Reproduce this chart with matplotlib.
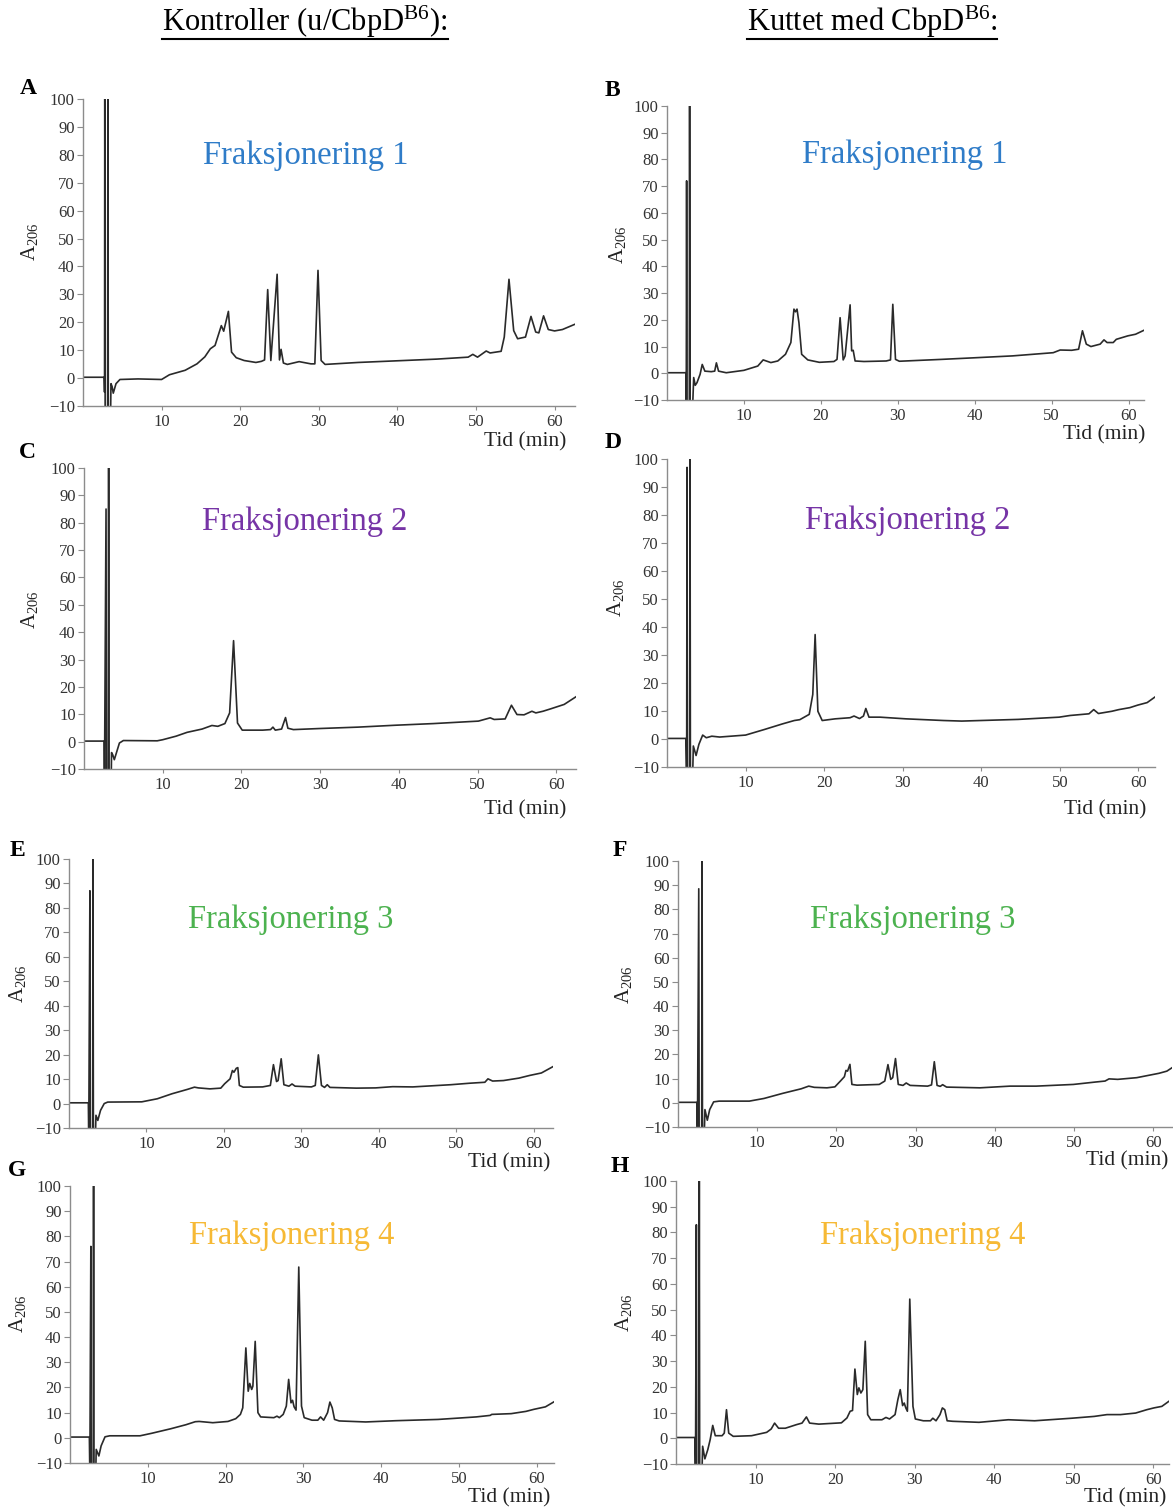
import numpy as np
import matplotlib
matplotlib.use("Agg")
import matplotlib.pyplot as plt
from matplotlib.lines import Line2D

plt.rcParams['font.family'] = ['Liberation Serif', 'DejaVu Serif']
plt.rcParams['mathtext.fontset'] = 'custom'
plt.rcParams['mathtext.rm'] = 'Liberation Serif'
plt.rcParams['mathtext.it'] = 'Liberation Serif:italic'

# kromatogrammer: (tid i min, A206)
spor_a = [(0, 0.3), (2.70, 0.3), (2.74, -5), (2.77, 100), (2.82, -15), (3.13, -15), (3.17, 100),
          (3.22, -15), (3.50, -15), (3.56, -2), (3.70, -3), (3.85, -5.4), (4.2, -2), (4.7, -0.5),
          (7.0, -0.3), (10.0, -0.5), (11.0, 1.2), (13.0, 2.8), (14.5, 5.1), (15.5, 7.6), (16.2, 10.5),
          (16.8, 11.7), (17.6, 18.8), (17.9, 16.8), (18.5, 23.9), (18.9, 9.3), (19.5, 7.3),
          (20.5, 6.3), (22.0, 5.6), (22.7, 6.0), (23.1, 6.5), (23.5, 31.7), (23.9, 6.3),
          (24.7, 37.2), (25.0, 6.5), (25.2, 10.3), (25.5, 5.4), (26.0, 4.9), (27.5, 5.9),
          (29.0, 5.1), (29.5, 5.1), (29.9, 38.6), (30.3, 6.3), (30.8, 4.9), (35.0, 5.6),
          (40.0, 6.2), (45.0, 6.8), (49.0, 7.5), (49.6, 8.5), (50.2, 7.5), (51.3, 9.7),
          (51.8, 9.0), (53.2, 9.6), (53.6, 14.7), (54.2, 35.4), (54.8, 17.0), (55.3, 14.1),
          (56.3, 14.7), (57.0, 22.1), (57.6, 16.5), (58.0, 16.2), (58.6, 22.3), (59.2, 17.4),
          (60.0, 16.9), (61.0, 17.4), (62.6, 19.3)]

spor_b = [(0, 0.2), (2.46, 0.2), (2.50, -15), (2.55, 72), (2.60, -15), (2.90, -15), (2.94, 100),
          (3.00, -15), (3.30, -15), (3.47, -1.6), (3.67, -4.5), (3.9, -3.5), (4.3, -0.4),
          (4.58, 3.3), (4.92, 0.8), (5.75, 0.6), (6.2, 0.8), (6.42, 3.9), (6.7, 0.8), (7.7, 0.2),
          (10.0, 1.1), (11.8, 2.7), (12.5, 5.0), (13.5, 4.0), (14.4, 4.6), (15.4, 7.1),
          (16.1, 11.5), (16.5, 24.0), (16.7, 23.0), (16.9, 24.0), (17.15, 18.9), (17.5, 7.1),
          (18.3, 5.0), (19.8, 4.1), (21.7, 4.4), (22.1, 5.2), (22.5, 20.8), (22.9, 5.0),
          (23.15, 6.5), (23.8, 25.6), (24.0, 8.4), (24.2, 8.6), (24.45, 4.6), (25.6, 4.4),
          (28.5, 4.6), (29.05, 5.0), (29.35, 25.8), (29.7, 5.2), (30.2, 4.5), (35.7, 5.2),
          (40.0, 5.8), (44.9, 6.5), (50.2, 7.7), (51.1, 8.7), (52.6, 8.6), (53.5, 9.0),
          (54.0, 15.9), (54.5, 10.9), (55.1, 10.0), (56.3, 10.9), (56.8, 12.5), (57.2, 11.5),
          (58.0, 11.5), (58.4, 12.7), (59.9, 14.0), (60.9, 14.6), (62.0, 16.1)]

spor_c = [(0, 0.2), (2.55, 0.2), (2.60, -15), (2.80, 85), (2.85, -15), (3.08, -15), (3.13, 100),
          (3.18, -15), (3.45, -15), (3.5, -4.0), (3.65, -4.8), (3.85, -6.6), (4.5, -0.5),
          (5.0, 0.4), (9.3, 0.3), (10.0, 0.7), (11.7, 2.0), (13.1, 3.4), (15.0, 4.6),
          (16.25, 5.9), (17.0, 5.6), (17.9, 6.6), (18.5, 10.5), (19.0, 36.9), (19.5, 6.8),
          (20.1, 4.2), (22.7, 4.2), (23.7, 4.4), (24.0, 5.3), (24.3, 4.2), (25.1, 4.6),
          (25.6, 8.8), (25.9, 4.9), (26.6, 4.4), (30.0, 4.8), (34.8, 5.3), (39.6, 6.0),
          (44.4, 6.6), (50.1, 7.5), (51.6, 8.7), (52.1, 8.1), (53.5, 8.3), (54.3, 13.3),
          (55.0, 9.9), (55.9, 9.8), (56.9, 11.1), (57.4, 10.5), (58.3, 11.1), (59.3, 12.0),
          (61.0, 13.6), (62.5, 16.4)]

spor_d = [(0, 0.2), (2.40, 0.2), (2.50, -15), (2.55, 97), (2.60, -15), (2.88, -15), (2.93, 100),
          (2.98, -15), (3.25, -15), (3.35, -2.5), (3.7, -5.9), (4.06, -1.9), (4.54, 1.4),
          (5.0, 0.45), (5.7, 1.0), (6.7, 0.7), (10.0, 1.4), (12.4, 3.4), (14.7, 5.4),
          (16.2, 6.6), (16.9, 6.9), (18.1, 8.8), (18.55, 15.9), (18.85, 37.3), (19.2, 9.9),
          (19.75, 6.6), (21.4, 7.2), (23.3, 7.6), (23.8, 8.2), (24.5, 7.3), (25.0, 8.2),
          (25.3, 10.9), (25.7, 7.8), (27.1, 7.8), (30.4, 7.2), (35.2, 6.6), (37.5, 6.4),
          (39.9, 6.6), (44.7, 7.0), (49.9, 7.8), (51.3, 8.4), (53.7, 9.0), (54.3, 10.5),
          (54.9, 9.1), (56.6, 9.9), (57.5, 10.5), (58.9, 11.2), (59.9, 12.1), (61.1, 13.0),
          (62.1, 15.0)]

spor_e = [(0, 0.3), (2.50, 0.3), (2.55, -15), (2.70, 87), (2.75, -15), (3.05, -15), (3.10, 100),
          (3.15, -15), (3.40, -15), (3.48, -4.8), (3.72, -6.9), (4.07, -2.8), (4.55, 0.0),
          (5.0, 0.6), (9.4, 0.7), (11.4, 1.95), (13.3, 4.0), (15.3, 5.8), (16.2, 6.7),
          (16.7, 6.4), (18.2, 6.0), (19.6, 6.3), (20.1, 8.1), (20.8, 10.1), (21.1, 13.5),
          (21.3, 12.8), (21.6, 14.4), (21.8, 14.7), (22.0, 7.4), (22.5, 6.7), (25.0, 6.8),
          (26.0, 7.4), (26.4, 15.9), (26.8, 9.0), (27.0, 9.4), (27.4, 18.3), (27.75, 7.7),
          (28.4, 7.1), (28.8, 8.0), (29.2, 7.1), (31.3, 6.8), (31.8, 7.4), (32.2, 19.9),
          (32.6, 7.4), (33.0, 6.6), (33.35, 7.7), (33.7, 6.6), (37.1, 6.3), (39.6, 6.4),
          (41.8, 6.9), (44.4, 6.8), (49.3, 7.7), (51.7, 8.3), (53.7, 8.7), (54.1, 10.1),
          (54.7, 9.2), (56.1, 9.4), (58.1, 10.4), (59.5, 11.5), (61.0, 12.5), (62.5, 15.1)]

spor_f = [(0, 0.2), (2.38, 0.2), (2.45, -15), (2.62, 88.5), (2.67, -15), (2.99, -15), (3.04, 100),
          (3.09, -15), (3.30, -15), (3.4, -2.8), (3.7, -7.2), (4.0, -2.8), (4.5, 0.4),
          (5.2, 0.7), (9.0, 0.7), (10.85, 1.8), (13.2, 3.9), (15.55, 5.8), (16.5, 6.9),
          (17.2, 6.4), (18.8, 6.2), (19.8, 6.6), (20.5, 9.0), (21.0, 10.8), (21.2, 13.4),
          (21.4, 13.1), (21.7, 15.9), (21.95, 7.6), (22.6, 7.3), (25.4, 7.6), (26.1, 9.0),
          (26.5, 15.8), (26.85, 9.7), (27.1, 10.4), (27.45, 18.3), (27.8, 7.6), (28.4, 7.2),
          (28.8, 8.2), (29.3, 7.2), (31.5, 6.9), (32.0, 7.4), (32.35, 17.0), (32.7, 7.2),
          (33.1, 6.8), (33.4, 7.5), (33.9, 6.5), (38.1, 6.2), (41.9, 6.9), (45.2, 6.9),
          (49.9, 7.6), (52.7, 8.6), (53.9, 9.0), (54.4, 9.9), (55.5, 9.7), (57.9, 10.4),
          (59.3, 11.3), (60.7, 12.2), (61.7, 13.1), (62.35, 14.5)]

spor_g = [(0, 0.3), (2.49, 0.3), (2.55, -15), (2.68, 76), (2.73, -15), (2.98, -15), (3.03, 100),
          (3.08, -15), (3.30, -15), (3.37, -4.6), (3.71, -7.2), (4.0, -3.2), (4.5, 0.4),
          (5.1, 0.8), (9.0, 0.8), (10.5, 1.8), (12.95, 3.6), (14.9, 5.2), (16.1, 6.4),
          (16.6, 6.5), (18.35, 6.0), (20.3, 6.5), (21.3, 7.6), (21.9, 9.3), (22.2, 11.9),
          (22.6, 35.7), (22.9, 18.5), (23.1, 21.6), (23.35, 19.2), (23.5, 20.5), (23.8, 38.3),
          (24.15, 10.0), (24.5, 8.3), (26.2, 8.0), (26.6, 8.6), (26.9, 8.0), (27.4, 9.3),
          (27.8, 12.6), (28.1, 23.2), (28.4, 13.9), (28.6, 14.9), (28.8, 12.3), (29.05, 11.0),
          (29.4, 67.8), (29.75, 12.6), (30.1, 8.0), (31.1, 7.0), (31.85, 7.0), (32.2, 8.3),
          (32.6, 7.0), (33.1, 10.0), (33.4, 14.2), (33.7, 11.9), (34.0, 7.3), (34.6, 6.7),
          (38.0, 6.3), (41.9, 6.8), (47.3, 7.3), (52.2, 8.3), (54.0, 8.9), (54.2, 9.3),
          (56.7, 9.6), (58.6, 10.5), (59.6, 11.3), (61.1, 12.3), (62.2, 14.3)]

spor_h = [(0, 0.3), (2.37, 0.3), (2.45, -15), (2.56, 83), (2.61, -15), (2.88, -15), (2.93, 100),
          (2.98, -15), (3.25, -15), (3.35, -3.1), (3.63, -8.0), (4.0, -4.4), (4.3, -0.5),
          (4.62, 5.0), (4.94, 1.0), (5.8, 1.0), (6.07, 2.0), (6.35, 11.1), (6.63, 2.0),
          (7.2, 0.75), (9.5, 1.0), (11.4, 2.3), (11.97, 3.6), (12.4, 5.9), (12.9, 3.9),
          (13.75, 3.9), (15.15, 5.3), (15.85, 5.9), (16.4, 8.3), (16.8, 5.9), (17.96, 5.5),
          (20.8, 6.0), (21.5, 7.9), (21.9, 10.5), (22.2, 10.8), (22.5, 26.9), (22.8, 17.0),
          (23.0, 19.6), (23.25, 17.6), (23.5, 18.9), (23.8, 37.7), (24.1, 9.2), (24.5, 7.2),
          (25.9, 7.2), (26.4, 8.1), (26.85, 7.5), (27.55, 9.2), (27.9, 15.0), (28.2, 18.9),
          (28.5, 12.7), (28.7, 13.7), (28.9, 11.8), (29.1, 10.5), (29.4, 54.1), (29.8, 12.4),
          (30.1, 7.5), (31.1, 6.8), (32.0, 6.8), (32.3, 7.8), (32.7, 6.8), (33.2, 9.2),
          (33.5, 11.8), (33.8, 11.1), (34.1, 6.8), (34.8, 6.6), (38.1, 6.2), (41.8, 7.2),
          (45.1, 6.8), (49.8, 7.8), (52.6, 8.5), (54.2, 9.2), (55.9, 9.2), (57.8, 9.8),
          (59.2, 11.1), (60.1, 11.8), (61.1, 12.4), (62.0, 14.4)]

bokstaver = ['A', 'B', 'C', 'D', 'E', 'F', 'G', 'H']
fraksjoner = ['Fraksjonering 1', 'Fraksjonering 1', 'Fraksjonering 2', 'Fraksjonering 2',
              'Fraksjonering 3', 'Fraksjonering 3', 'Fraksjonering 4', 'Fraksjonering 4']
farger = ['#2f7cc8', '#2f7cc8', '#7634a6', '#7634a6', '#4cb24f', '#4cb24f', '#f6b935', '#f6b935']
alle_spor = [spor_a, spor_b, spor_c, spor_d, spor_e, spor_f, spor_g, spor_h]
xmaks = [62.6, 62.0, 62.5, 62.1, 62.5, 62.35, 62.2, 62.0]

W, H = 1173, 1510
fig = plt.figure(figsize=(W / 100, H / 100), dpi=100)

# plassering i piksler: venstre, topp, hoyre, bunn
bokser = [(83, 99, 575, 406), (667, 106, 1144, 400),
          (84, 468, 576, 769), (667, 459, 1155, 767),
          (69, 859, 553, 1128), (678, 861, 1172, 1127),
          (70, 1186, 554, 1463), (676, 1181, 1169, 1464)]
bokstav_pos = [(28, 88), (612, 91), (27, 453), (613, 443), (17, 851), (620, 851), (17, 1170), (620, 1167)]
ylab_pos = [(30, 242), (618, 245), (30, 610), (615, 598), (18, 984), (623, 985), (17, 1314), (623, 1313)]
tekst_pos = [(306, 156), (905, 155), (305, 522), (908, 521), (291, 920), (913, 920), (292, 1236), (923, 1236)]
tid_pos = [(566, 442), (1145, 435), (566, 810), (1146, 810), (550, 1163), (1168, 1161), (550, 1498), (1166, 1498)]


def fx(x):
    return x / W


def fy(y):
    return 1 - y / H


for i in range(8):
    l, t, r, b = bokser[i]
    ax = fig.add_axes([fx(l), fy(b), (r - l) / W, (b - t) / H])
    ax.patch.set_alpha(0)
    tt, yy = np.array(alle_spor[i]).T
    ax.plot(tt, yy, color='#2a2a2a', lw=1.2)
    ax.set_xlim(0, xmaks[i])
    ax.set_ylim(-10, 100)
    ax.set_yticks(range(-10, 101, 10))
    ax.set_xticks(range(10, 61, 10))
    for s in ['top', 'right']:
        ax.spines[s].set_visible(False)
    for s in ['left', 'bottom']:
        ax.spines[s].set_color('#8c8c8c')
        ax.spines[s].set_linewidth(1.0)
    ax.tick_params(axis='y', direction='out', length=4, width=0.8, color='#8c8c8c',
                   labelsize=12, pad=2, labelcolor='#333333')
    ax.tick_params(axis='x', direction='out', length=3, width=0.8, color='#8c8c8c',
                   labelsize=12, pad=3, labelcolor='#333333')

    fig.text(fx(bokstav_pos[i][0]), fy(bokstav_pos[i][1]), bokstaver[i], fontsize=17,
             fontweight='bold', ha='center', va='center')
    fig.text(fx(ylab_pos[i][0]), fy(ylab_pos[i][1]), r'A$_{\mathrm{206}}$', fontsize=15,
             rotation=90, ha='center', va='center', color='#222222')
    fig.text(fx(tekst_pos[i][0]), fy(tekst_pos[i][1]), fraksjoner[i], fontsize=23.5,
             color=farger[i], ha='center', va='center')
    fig.text(fx(tid_pos[i][0]), fy(tid_pos[i][1]), 'Tid (min)', fontsize=15.5,
             ha='right', va='center', color='#222222')

# overskrifter med understreking
overskrifter = [(305, 22, r'Kontroller (u/CbpD$^{\mathrm{B6}}$):'),
                (872, 22, r'Kuttet med CbpD$^{\mathrm{B6}}$:')]
tekster = []
for x, y, s in overskrifter:
    tekster.append(fig.text(fx(x), fy(y), s, fontsize=22, ha='center', va='center'))

fig.canvas.draw()
rend = fig.canvas.get_renderer()
for tx in tekster:
    bb = tx.get_window_extent(renderer=rend)
    yl = (bb.y0 + 1) / H
    fig.add_artist(Line2D([bb.x0 / W, bb.x1 / W], [yl, yl], color='black', lw=1.5))

fig.savefig('out.png', dpi=100)
